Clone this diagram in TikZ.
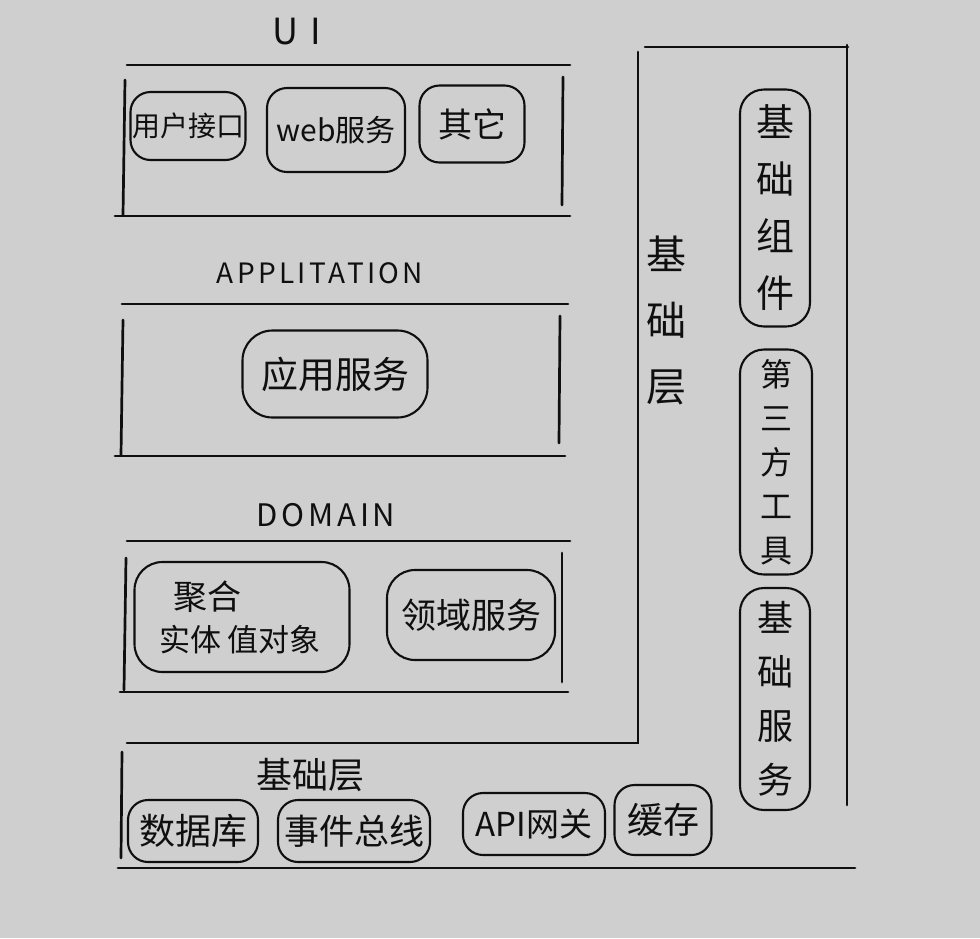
\documentclass[tikz,border=0pt]{standalone}
\usepackage{fontspec}
\setmainfont{Noto Sans CJK SC}
\newfontfamily\spaced[LetterSpace=12]{Noto Sans CJK SC}
\definecolor{paper}{RGB}{207,207,207}
\definecolor{ink}{RGB}{15,15,15}
\tikzset{
  ln/.style={draw=ink, line width=2.7pt, line cap=round},
  bx/.style={draw=ink, line width=2.1pt, rounded corners=20pt, inner sep=0pt, align=center, text=ink},
  ttl/.style={text=ink, inner sep=0pt},
  vt/.style={text=ink, inner sep=0pt, align=center},
}
\newcommand{\fs}[2]{\fontsize{#1}{#2}\selectfont}
\begin{document}
\begin{tikzpicture}[x=1pt,y=-1pt]
\fill[paper] (0,0) rectangle (980,938);
\useasboundingbox (0,0) rectangle (980,938);

% ---------- UI ----------
\node[ttl, font=\spaced\fs{36}{40}] (tui) at (297,32) {U I};
\draw[ln] (127,65) -- (570,65);
\draw[ln] (125,80) -- (123,215);
\draw[ln] (563,77) -- (562,205);
\draw[ln] (115,216) -- (570,216);
\node[bx, minimum width=115pt, minimum height=68pt, font=\fs{28}{30}] (ui1) at (188,126) {用户接口};
\node[bx, minimum width=138pt, minimum height=84pt, font=\fs{30}{32}] (ui2) at (336,130) {web服务};
\node[bx, minimum width=105pt, minimum height=77pt, font=\fs{34}{36}] (ui3) at (472,124) {其它};

% ---------- APPLICATION ----------
\node[ttl, font=\spaced\fs{28}{32}] (tapp) at (320,273) {APPLITATION};
\draw[ln] (122,304) -- (568,304);
\draw[ln] (123,320) -- (121,455);
\draw[ln] (560,316) -- (559,443);
\draw[ln] (115,456) -- (565,456);
\node[bx, rounded corners=30pt, minimum width=185pt, minimum height=87pt, font=\fs{37}{40}] (app1) at (335,374) {应用服务};

% ---------- DOMAIN ----------
\node[ttl, font=\spaced\fs{31}{34}] (tdom) at (326,515) {DOMAIN};
\draw[ln] (127,541) -- (570,541);
\draw[ln] (126,558) -- (124,690);
\draw[ln] (562,553) -- (562,682);
\draw[ln] (120,692) -- (568,692);
\node[bx, rounded corners=28pt, minimum width=215pt, minimum height=110pt] (dom1) at (242,617) {};
\node[ttl, font=\fs{34}{36}] (agg) at (207,597) {聚合};
\node[ttl, font=\fs{31}{34}] (ent) at (240,640) {实体\ 值对象};
\node[bx, rounded corners=28pt, minimum width=168pt, minimum height=90pt, font=\fs{35}{38}] (dom2) at (471,615) {领域服务};

% ---------- Infrastructure (L shape) ----------
\draw[ln] (645,47) -- (848,47);
\draw[ln] (638,52) -- (638,743) -- (127,743);
\draw[ln] (847,45) -- (847,805);
\node[vt, font=\fs{40}{66}] (tinfv) at (666,320) {基\\础\\层};
\node[bx, rounded corners=24pt, minimum width=70pt, minimum height=237pt, font=\fs{38}{57}] (r1) at (775,208) {基\\础\\组\\件};
\node[bx, rounded corners=24pt, minimum width=72pt, minimum height=225pt, font=\fs{32}{44}] (r2) at (776,462) {第\\三\\方\\工\\具};
\node[bx, rounded corners=24pt, minimum width=70pt, minimum height=222pt, font=\fs{36}{54}] (r3) at (775,699) {基\\础\\服\\务};

% ---------- bottom infrastructure ----------
\draw[ln] (122,752) -- (121,858);
\draw[ln] (118,868) -- (855,868);
\node[ttl, font=\fs{36}{38}] (tinf) at (310,775) {基础层};
\node[bx, minimum width=130pt, minimum height=62pt, font=\fs{36}{38}] (inf1) at (193,831) {数据库};
\node[bx, minimum width=152pt, minimum height=62pt, font=\fs{35}{38}] (inf2) at (354,831) {事件总线};
\node[bx, minimum width=142pt, minimum height=62pt, font=\fs{33}{36}] (inf3) at (534,824) {API网关};
\node[bx, minimum width=97pt, minimum height=70pt, font=\fs{36}{38}] (inf4) at (663,820) {缓存};
\end{tikzpicture}
\end{document}
